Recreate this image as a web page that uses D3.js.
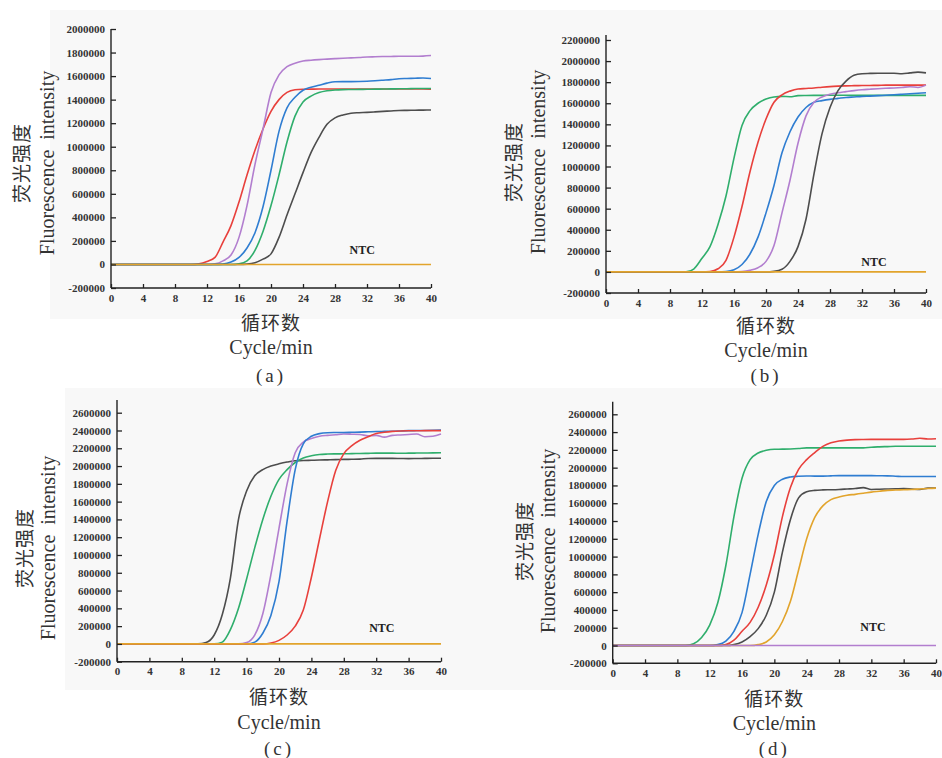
<!DOCTYPE html>
<html>
<head>
<meta charset="utf-8">
<script src="https://cdn.jsdelivr.net/npm/d3@7"></script>
<style>
  body { margin: 0; background: #fff; }
  svg { display: block; }
</style>
</head>
<body>
<div id="chart"></div>
<script>
// cycles on the x axis
const cycles = [0,1,2,3,4,5,6,7,8,9,10,11,12,13,14,15,16,17,18,19,20,21,22,23,24,25,26,27,28,29,30,31,32,33,34,35,36,37,38,39,40];
const xTicks = [0,4,8,12,16,20,24,28,32,36,40];
const yTicksA = [-200000,0,200000,400000,600000,800000,1000000,1200000,1400000,1600000,1800000,2000000];
const yTicksB = [-200000,0,200000,400000,600000,800000,1000000,1200000,1400000,1600000,1800000,2000000,2200000];
const yTicksCD = [-200000,0,200000,400000,600000,800000,1000000,1200000,1400000,1600000,1800000,2000000,2200000,2400000,2600000];

// (a)
const redA = [0,0,0,0,0,0,0,0,0,0,0, 5000,25000,60000,190000,330000,530000,760000,970000,1150000,1300000, 1400000,1462000,1484000,1488000,1489000,1490000,1490000,1490000,1490000,1490000, 1490000,1490000,1490000,1490000,1490000,1490000,1490000,1490000,1490000,1488000];
const purpleA = [0,0,0,0,0,0,0,0,0,0,0,0,0, 5000,30000,80000,230000,500000,850000,1150000,1460000, 1610000,1680000,1710000,1728000,1735000,1740000,1744000,1748000,1752000,1755000, 1758000,1762000,1764000,1766000,1767000,1768000,1768000,1768000,1770000,1775000];
const blueA = [0,0,0,0,0,0,0,0,0,0,0,0,0,0, 3000,20000,60000,140000,270000,490000,800000, 1130000,1330000,1420000,1480000,1505000,1522000,1540000,1552000,1553000,1553000, 1554000,1556000,1560000,1565000,1570000,1578000,1580000,1582000,1584000,1580000];
const greenA = [0,0,0,0,0,0,0,0,0,0,0,0,0,0,0,0, 5000,30000,120000,280000,500000, 760000,1040000,1260000,1380000,1430000,1460000,1475000,1482000,1485000,1486000, 1487000,1488000,1489000,1490000,1491000,1492000,1493000,1494000,1495000,1495000];
const blackA = [0,0,0,0,0,0,0,0,0,0,0,0,0,0,0,0,0, 3000,15000,45000,90000, 230000,420000,600000,780000,950000,1080000,1190000,1245000,1270000,1285000, 1289000,1292000,1296000,1300000,1304000,1308000,1309000,1310000,1311000,1312000];
const orangeA = [0,0,0,0,0,0,0,0,0,0,0,0,0,0,0,0,0,0,0,0,0,0,0,0,0,0,0,0,0,0,0,0,0,0,0,0,0,0,0,0,0];

// (b)
const greenB = [0,0,0,0,0,0,0,0,0,0,0, 30000,130000,240000,450000,720000,1080000,1390000,1530000,1600000,1640000, 1660000,1665000,1662000,1672000,1674000,1675000,1675000,1676000,1676000,1676000, 1675000,1675000,1675000,1675000,1675000,1675000,1675000,1675000,1675000,1675000];
const redB = [0,0,0,0,0,0,0,0,0,0,0,0,0, 3000,30000,110000,330000,620000,950000,1230000,1450000, 1610000,1680000,1715000,1735000,1740000,1745000,1752000,1758000,1762000,1765000, 1767000,1768000,1769000,1770000,1772000,1772000,1772000,1772000,1772000,1772000];
const blueB = [0,0,0,0,0,0,0,0,0,0,0,0,0,0,0, 3000,20000,70000,170000,330000,560000, 820000,1130000,1330000,1470000,1560000,1610000,1625000,1637000,1646000,1655000, 1660000,1665000,1668000,1672000,1676000,1680000,1685000,1690000,1695000,1700000];
const purpleB = [0,0,0,0,0,0,0,0,0,0,0,0,0,0,0,0,0, 3000,15000,40000,100000, 250000,560000,870000,1220000,1480000,1610000,1660000,1685000,1700000,1710000, 1720000,1728000,1733000,1738000,1742000,1745000,1750000,1757000,1750000,1772000];
const blackB = [0,0,0,0,0,0,0,0,0,0,0,0,0,0,0,0,0,0,0,0,0, 5000,25000,100000,240000,500000,930000,1310000,1560000,1720000,1810000, 1865000,1880000,1883000,1885000,1885000,1884000,1880000,1888000,1895000,1888000];
const orangeB = [0,0,0,0,0,0,0,0,0,0,0,0,0,0,0,0,0,0,0,0,0,0,0,0,0,0,0,0,0,0,0,0,0,0,0,0,0,0,0,0,0];

// (c)
const blackC = [0,0,0,0,0,0,0,0,0,0,0, 15000,100000,330000,740000,1400000,1720000,1890000,1960000,2000000,2025000, 2045000,2060000,2062000,2065000,2068000,2070000,2072000,2075000,2076000,2078000, 2085000,2086000,2086000,2086000,2085000,2084000,2085000,2086000,2087000,2088000];
const greenC = [0,0,0,0,0,0,0,0,0,0,0,0,0, 20000,160000,400000,730000,1080000,1400000,1660000,1850000, 1960000,2040000,2090000,2115000,2130000,2135000,2137000,2138000,2140000,2141000, 2143000,2145000,2145000,2145000,2144000,2145000,2146000,2147000,2148000,2150000];
const purpleC = [0,0,0,0,0,0,0,0,0,0,0,0,0,0,0,0, 15000,100000,340000,780000,1300000, 1800000,2150000,2270000,2310000,2335000,2345000,2352000,2360000,2358000,2355000, 2340000,2345000,2325000,2345000,2350000,2355000,2360000,2330000,2335000,2360000];
const blueC = [0,0,0,0,0,0,0,0,0,0,0,0,0,0,0,0,0, 20000,120000,320000,700000, 1380000,1960000,2250000,2335000,2365000,2375000,2377000,2378000,2380000,2382000, 2385000,2388000,2390000,2392000,2395000,2398000,2399000,2400000,2402000,2405000];
const redC = [0,0,0,0,0,0,0,0,0,0,0,0,0,0,0,0,0,0,0, 10000,40000, 100000,200000,380000,750000,1180000,1600000,1950000,2140000,2230000,2290000, 2330000,2365000,2380000,2390000,2395000,2397000,2397000,2398000,2398000,2398000];
const orangeC = [0,0,0,0,0,0,0,0,0,0,0,0,0,0,0,0,0,0,0,0,0,0,0,0,0,0,0,0,0,0,0,0,0,0,0,0,0,0,0,0,0];

// (d)
const greenD = [0,0,0,0,0,0,0,0,0,0, 20000,90000,230000,480000,900000,1450000,1880000,2090000,2165000,2195000,2207000, 2208000,2210000,2215000,2222000,2222000,2222000,2222000,2222000,2222000,2222000, 2222000,2230000,2234000,2237000,2240000,2240000,2240000,2240000,2240000,2240000];
const blueD = [0,0,0,0,0,0,0,0,0,0,0,0,0, 10000,50000,160000,370000,800000,1250000,1620000,1800000, 1870000,1895000,1903000,1907000,1905000,1905000,1908000,1910000,1910000,1910000, 1910000,1910000,1909000,1908000,1904000,1900000,1900000,1900000,1900000,1900000];
const redD = [0,0,0,0,0,0,0,0,0,0,0,0,0,0, 10000,60000,160000,260000,430000,680000,1020000, 1450000,1780000,1980000,2090000,2170000,2240000,2280000,2300000,2310000,2315000, 2317000,2318000,2318000,2318000,2318000,2318000,2322000,2330000,2322000,2325000];
const blackD = [0,0,0,0,0,0,0,0,0,0,0,0,0,0,0, 10000,40000,100000,190000,340000,600000, 1050000,1420000,1660000,1730000,1745000,1750000,1752000,1755000,1760000,1765000, 1775000,1755000,1758000,1760000,1762000,1765000,1760000,1755000,1770000,1770000];
const orangeD = [0,0,0,0,0,0,0,0,0,0,0,0,0,0,0,0,0,0, 10000,40000,120000, 270000,500000,850000,1200000,1440000,1570000,1640000,1670000,1690000,1700000, 1712000,1725000,1735000,1745000,1748000,1752000,1755000,1760000,1765000,1770000];
const purpleD = [0,0,0,0,0,0,0,0,0,0,0,0,0,0,0,0,0,0,0,0,0,0,0,0,0,0,0,0,0,0,0,0,0,0,0,0,0,0,0,0,0];

const col = {
  red: "#e8403c",
  purple: "#b27ecf",
  blue: "#2f7dd1",
  green: "#2fae6c",
  black: "#4d4d4d",
  orange: "#e2a42c"
};

const W = 942, H = 758;
const svg = d3.select("#chart").append("svg")
  .attr("width", W)
  .attr("height", H);

svg.append("rect").attr("width", W).attr("height", H).attr("fill", "#fff");

// light grey backgrounds behind the two rows
svg.append("rect").attr("x", 50).attr("y", 10).attr("width", W - 50).attr("height", 309).attr("fill", "#f8f8f8");
svg.append("rect").attr("x", 65).attr("y", 388).attr("width", W - 65).attr("height", 302).attr("fill", "#f8f8f8");

const panels = [
  { label: "(a)", left: 111, right: 431, bottom: 288, top: 29, axisTop: 29, yTicks: yTicksA,
    series: [[redA, col.red], [purpleA, col.purple], [blueA, col.blue], [greenA, col.green], [blackA, col.black], [orangeA, col.orange]],
    ntc: [31.4, 123000], cjkX: 20, engX: 47, titleY: 163, xt1: 321, xt2: 347, xt3: 375 },
  { label: "(b)", left: 606, right: 926, bottom: 293, top: 40, axisTop: 35, yTicks: yTicksB,
    series: [[greenB, col.green], [redB, col.red], [blueB, col.blue], [purpleB, col.purple], [blackB, col.black], [orangeB, col.orange]],
    ntc: [33.5, 95000], cjkX: 512, engX: 538, titleY: 162, xt1: 324, xt2: 350, xt3: 375 },
  { label: "(c)", left: 117, right: 441, bottom: 661.7, top: 412.7, axisTop: 400, yTicks: yTicksCD,
    series: [[blackC, col.black], [greenC, col.green], [purpleC, col.purple], [blueC, col.blue], [redC, col.red], [orangeC, col.orange]],
    ntc: [32.7, 180000], cjkX: 23, engX: 48, titleY: 548, xt1: 695, xt2: 722, xt3: 748 },
  { label: "(d)", left: 612.7, right: 936, bottom: 663.3, top: 414.3, axisTop: 401.7, yTicks: yTicksCD,
    series: [[greenD, col.green], [blueD, col.blue], [redD, col.red], [blackD, col.black], [orangeD, col.orange], [purpleD, col.purple]],
    ntc: [32.2, 210000], cjkX: 523, engX: 548, titleY: 541, xt1: 697, xt2: 723, xt3: 748 }
];

const serif = "'Liberation Serif', 'DejaVu Serif', serif";
const cjk = "'Noto Sans CJK SC', sans-serif";

panels.forEach(function(p) {
  const x = d3.scaleLinear().domain([0, 40]).range([p.left, p.right]);
  const yMax = p.yTicks[p.yTicks.length - 1];
  const y = d3.scaleLinear().domain([-200000, yMax]).range([p.bottom, p.top]);

  const g = svg.append("g");

  // curves
  const line = d3.line()
    .x((d, i) => x(cycles[i]))
    .y(d => y(d))
    .curve(d3.curveMonotoneX);

  p.series.forEach(function(s) {
    g.append("path")
      .datum(s[0])
      .attr("fill", "none")
      .attr("stroke", s[1])
      .attr("stroke-width", 1.6)
      .attr("stroke-linejoin", "round")
      .attr("d", line);
  });

  // y axis (ticks pointing inward), plain hyphen for negatives
  const yAxis = g.append("g")
    .attr("transform", `translate(${p.left},0)`)
    .call(d3.axisLeft(y).tickValues(p.yTicks).tickSizeInner(-5).tickSizeOuter(0).tickPadding(6)
      .tickFormat(d => String(d)));
  yAxis.select(".domain").remove();

  // x axis
  const xAxis = g.append("g")
    .attr("transform", `translate(0,${p.bottom})`)
    .call(d3.axisBottom(x).tickValues(xTicks).tickSizeInner(-4).tickSizeOuter(0).tickPadding(6));
  xAxis.select(".domain").remove();

  [yAxis, xAxis].forEach(function(a) {
    a.selectAll("line").attr("stroke", "#222").attr("stroke-width", 1.3);
    a.selectAll("text")
      .style("font-family", serif)
      .style("font-size", "11px")
      .style("font-weight", "bold")
      .attr("fill", "#333");
  });

  // axis lines
  g.append("line").attr("x1", p.left).attr("x2", p.left).attr("y1", p.axisTop).attr("y2", p.bottom)
    .attr("stroke", "#222").attr("stroke-width", 1.4);
  g.append("line").attr("x1", p.left).attr("x2", p.right).attr("y1", p.bottom).attr("y2", p.bottom)
    .attr("stroke", "#222").attr("stroke-width", 1.4);

  // NTC label
  g.append("text")
    .attr("x", x(p.ntc[0]))
    .attr("y", y(p.ntc[1]))
    .attr("text-anchor", "middle")
    .attr("dominant-baseline", "central")
    .style("font-family", serif)
    .style("font-size", "12px")
    .style("font-weight", "bold")
    .attr("fill", "#222")
    .text("NTC");

  // y titles
  g.append("text")
    .attr("transform", `translate(${p.cjkX},${p.titleY}) rotate(-90)`)
    .attr("text-anchor", "middle")
    .attr("dominant-baseline", "central")
    .style("font-family", cjk)
    .style("font-size", "19px")
    .style("letter-spacing", "1px")
    .attr("fill", "#333")
    .text("荧光强度");

  g.append("text")
    .attr("transform", `translate(${p.engX},${p.titleY}) rotate(-90)`)
    .attr("text-anchor", "middle")
    .attr("dominant-baseline", "central")
    .style("font-family", serif)
    .style("font-size", "20px")
    .style("white-space", "pre")
    .attr("fill", "#333")
    .text("Fluorescence  intensity");

  // x titles
  const cx = (p.left + p.right) / 2;
  g.append("text")
    .attr("x", cx).attr("y", p.xt1)
    .attr("text-anchor", "middle")
    .attr("dominant-baseline", "central")
    .style("font-family", cjk)
    .style("font-size", "19px")
    .style("letter-spacing", "1px")
    .attr("fill", "#333")
    .text("循环数");

  g.append("text")
    .attr("x", cx).attr("y", p.xt2)
    .attr("text-anchor", "middle")
    .attr("dominant-baseline", "central")
    .style("font-family", serif)
    .style("font-size", "20px")
    .attr("fill", "#333")
    .text("Cycle/min");

  g.append("text")
    .attr("x", cx).attr("y", p.xt3)
    .attr("text-anchor", "middle")
    .attr("dominant-baseline", "central")
    .style("font-family", serif)
    .style("font-size", "19px")
    .style("letter-spacing", "3px")
    .attr("fill", "#333")
    .text(p.label);
});
</script>
</body>
</html>
